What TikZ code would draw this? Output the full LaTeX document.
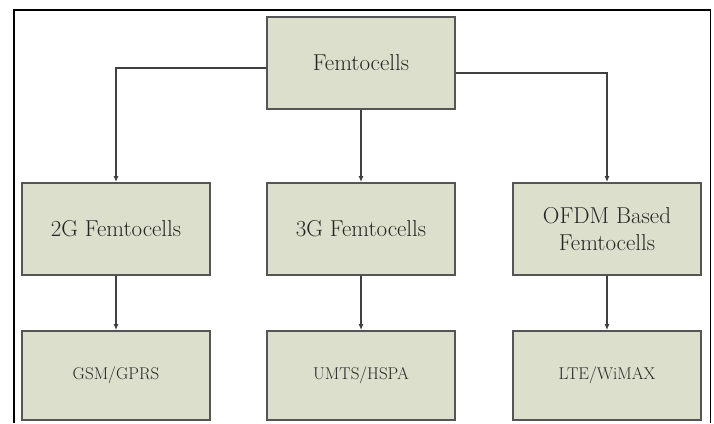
\documentclass[tikz,border=0pt]{standalone}
\usetikzlibrary{arrows.meta}
\definecolor{boxfill}{HTML}{DCDFCB}
\definecolor{boxline}{HTML}{555555}
\definecolor{txt}{HTML}{262626}
\begin{document}
\begin{tikzpicture}[x=1pt,y=-1pt,
  cell/.style={draw=boxline, line width=1.8pt, fill=boxfill, text=txt,
    minimum width=188pt, align=center, inner sep=0pt},
  big/.style={cell, minimum height=92pt, font=\fontsize{23}{27}\selectfont},
  small/.style={cell, minimum height=89pt, font=\fontsize{17}{20}\selectfont},
  arr/.style={draw=black!75, line width=1.4pt, -{Latex[length=6pt,width=5pt]}},
  frame/.style={draw=black, line width=1.3pt}]
\useasboundingbox (0,0) rectangle (714,423);
\draw[frame] (14,423) -- (14,10) -- (710.5,10) -- (710.5,423);
\node[big] (top) at (361,63) {Femtocells};
\node[big] (g2) at (116,229) {2G Femtocells};
\node[big] (g3) at (361,229) {3G Femtocells};
\node[big] (ofdm) at (607,229) {OFDM Based\\Femtocells};
\node[small] (gsm) at (116,375.5) {GSM/GPRS};
\node[small] (umts) at (361,375.5) {UMTS/HSPA};
\node[small] (lte) at (607,375.5) {LTE/WiMAX};
\draw[arr] ([yshift=-5pt]top.west) -| (g2.north);
\draw[arr] (top.south) -- (g3.north);
\draw[arr] ([yshift=-10pt]top.east) -| (ofdm.north);
\draw[arr] (g2.south) -- (gsm.north);
\draw[arr] (g3.south) -- (umts.north);
\draw[arr] (ofdm.south) -- (lte.north);
\end{tikzpicture}
\end{document}
